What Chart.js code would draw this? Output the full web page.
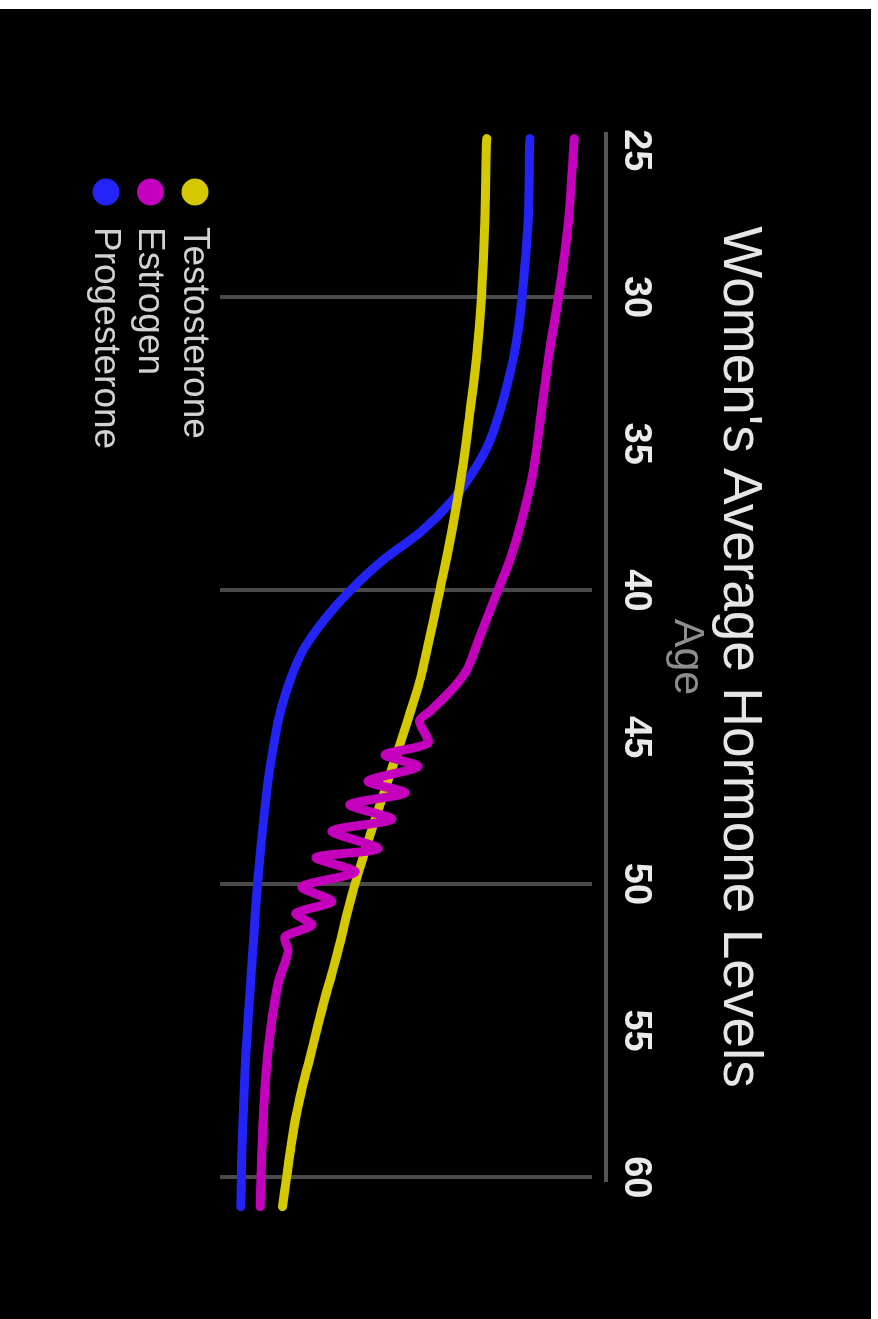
<!DOCTYPE html>
<html>

<head>
  <script src="https://cdn.jsdelivr.net/npm/chart.js"></script>
  <style>
    body { margin: 0; background: #fff; }
    #wrap { position: absolute; left: 0; top: 9px; width: 871px; height: 1310px; background: #000; overflow: hidden; }
    /* chart is drawn landscape and turned a quarter clockwise */
    #rot { position: absolute; left: 0; top: 0; width: 1310px; height: 871px; transform-origin: 0 0; transform: translate(871px, 0) rotate(90deg); }
  </style>
</head>

<body>
  <div id="wrap">
    <div id="rot">
      <canvas id="hormoneChart" width="1310" height="871"></canvas>
    </div>
  </div>

  <script>
    // tick labels on the age axis, grid only every 10 years
    const ageTicks = [25, 30, 35, 40, 45, 50, 55, 60];
    const gridAges = [30, 40, 50, 60];

    const testosteroneAges = [24.6, 25, 27.5, 30, 32, 34, 36, 38, 40, 41, 42, 43, 44, 45, 46, 47, 48, 49, 50, 51, 52, 53, 54, 55, 56, 57, 58, 59, 60, 61];
    const testosteroneLevels = [71.7, 71.6, 71.2, 70.3, 69.0, 67.1, 65.0, 62.3, 59.1, 57.4, 55.7, 53.9, 51.5, 49.0, 46.4, 43.8, 41.2, 38.7, 36.3, 34.2, 32.3, 30.2, 28.0, 26.0, 24.0, 22.0, 20.3, 19.0, 17.9, 16.8];

    const estrogenAges = [24.6, 25, 27.5, 30, 32, 34, 36, 38, 39, 40, 41, 42, 42.7, 43.2, 43.7, 44.1, 44.45, 45.2, 45.6, 46.0, 46.5, 46.9, 47.3, 47.8, 48.2, 48.8, 49.1, 49.6, 50.1, 50.6, 51.0, 51.4, 51.8, 52.3, 53.4, 55.7, 58, 60, 61];
    const estrogenLevels = [95.2, 95.0, 93.6, 91.0, 88.4, 86.3, 84.1, 80.3, 77.8, 74.7, 71.6, 68.6, 66.4, 63.6, 59.9, 56.6, 53.6, 55.9, 44.4, 53.2, 39.8, 49.7, 34.9, 46.2, 30.1, 42.5, 25.8, 36.3, 22.0, 30.1, 20.4, 24.7, 17.5, 18.3, 15.6, 12.9, 11.6, 11.0, 10.8];

    const progesteroneAges = [24.6, 25, 27.5, 30, 31, 32, 33, 34, 35, 36, 37, 38, 39, 40, 41, 42, 43, 44, 45, 46.6, 49.8, 52.3, 55.7, 59, 61];
    const progesteroneLevels = [83.3, 83.2, 82.8, 81.2, 80.3, 79.0, 77.2, 75.0, 72.2, 67.8, 62.0, 54.0, 43.5, 35.0, 28.0, 22.5, 19.0, 16.5, 14.8, 12.8, 10.2, 8.8, 7.0, 5.9, 5.6];

    const seriesNames = ['Testosterone', 'Estrogen', 'Progesterone'];
    const seriesColors = ['#d4c800', '#c400bd', '#2323f5'];

    function points(ages, levels) {
      return ages.map((a, i) => ({ x: a, y: levels[i] }));
    }

    Chart.defaults.font.family = "'Liberation Sans', Arial, sans-serif";

    // the axis line sits a little above where the grid lines start
    const axisLine = {
      id: 'axisLine',
      beforeDatasetsDraw(chart) {
        const { ctx, chartArea } = chart;
        const x = chart.scales.x;
        ctx.save();
        ctx.strokeStyle = '#555555';
        ctx.lineWidth = 4;
        ctx.beginPath();
        ctx.moveTo(x.left, chartArea.top - 14);
        ctx.lineTo(x.right, chartArea.top - 14);
        ctx.stroke();
        ctx.restore();
      }
    };

    // legend stacked one item per row under the plot
    const stackedLegend = {
      id: 'stackedLegend',
      afterDraw(chart) {
        const { ctx, chartArea } = chart;
        ctx.save();
        ctx.font = "37px 'Liberation Sans', Arial, sans-serif";
        ctx.textBaseline = 'middle';
        chart.data.datasets.forEach((ds, i) => {
          const y = chartArea.bottom + 25 + i * 44.5;
          ctx.fillStyle = ds.borderColor;
          ctx.beginPath();
          ctx.arc(chartArea.left + 60, y, 13.5, 0, Math.PI * 2);
          ctx.fill();
          ctx.fillStyle = '#d2d2d2';
          ctx.fillText(ds.label, chartArea.left + 95, y + 1);
        });
        ctx.restore();
      }
    };

    const ctx = document.getElementById('hormoneChart').getContext('2d');
    const hormoneChart = new Chart(ctx, {
      type: 'line',
      data: {
        datasets: [
          { label: seriesNames[0], data: points(testosteroneAges, testosteroneLevels), borderColor: seriesColors[0], order: 1 },
          { label: seriesNames[1], data: points(estrogenAges, estrogenLevels), borderColor: seriesColors[1], order: 0, tension: 0.25 },
          { label: seriesNames[2], data: points(progesteroneAges, progesteroneLevels), borderColor: seriesColors[2], order: 2 },
        ],
      },
      options: {
        responsive: false,
        animation: false,
        layout: { padding: { left: 123, right: 137, top: 0, bottom: 220 } },
        elements: {
          line: { borderWidth: 9, tension: 0.35, borderCapStyle: 'round', borderJoinStyle: 'round', fill: false },
          point: { radius: 0 },
        },
        datasets: { line: { clip: false } },
        plugins: {
          legend: { display: false },
          tooltip: { enabled: false },
          title: {
            display: true,
            text: "Women's Average Hormone Levels",
            color: '#e6e6e6',
            font: { size: 55, weight: 'normal', lineHeight: 1 },
            padding: { top: 104.4, bottom: 0 },
          },
        },
        scales: {
          x: {
            type: 'linear',
            position: 'top',
            min: 24.376,
            max: 60.16,
            border: { display: false },
            afterBuildTicks: (axis) => { axis.ticks = ageTicks.map(v => ({ value: v })); },
            grid: {
              drawTicks: false,
              lineWidth: 4,
              color: (c) => (c.tick && gridAges.includes(Math.round(c.tick.value))) ? '#4a4a4a' : 'transparent',
            },
            ticks: {
              padding: 20.4,
              color: '#eaeaea',
              maxRotation: 0,
              autoSkip: false,
              font: { size: 38, weight: 'bold' },
            },
            title: {
              display: true,
              text: 'Age',
              color: '#8e8e8e',
              font: { size: 43 },
              padding: { top: -1, bottom: -17.4 },
            },
          },
          y: { display: false, min: 0, max: 100 },
        },
      },
      plugins: [axisLine, stackedLegend],
    });
  </script>
</body>

</html>
